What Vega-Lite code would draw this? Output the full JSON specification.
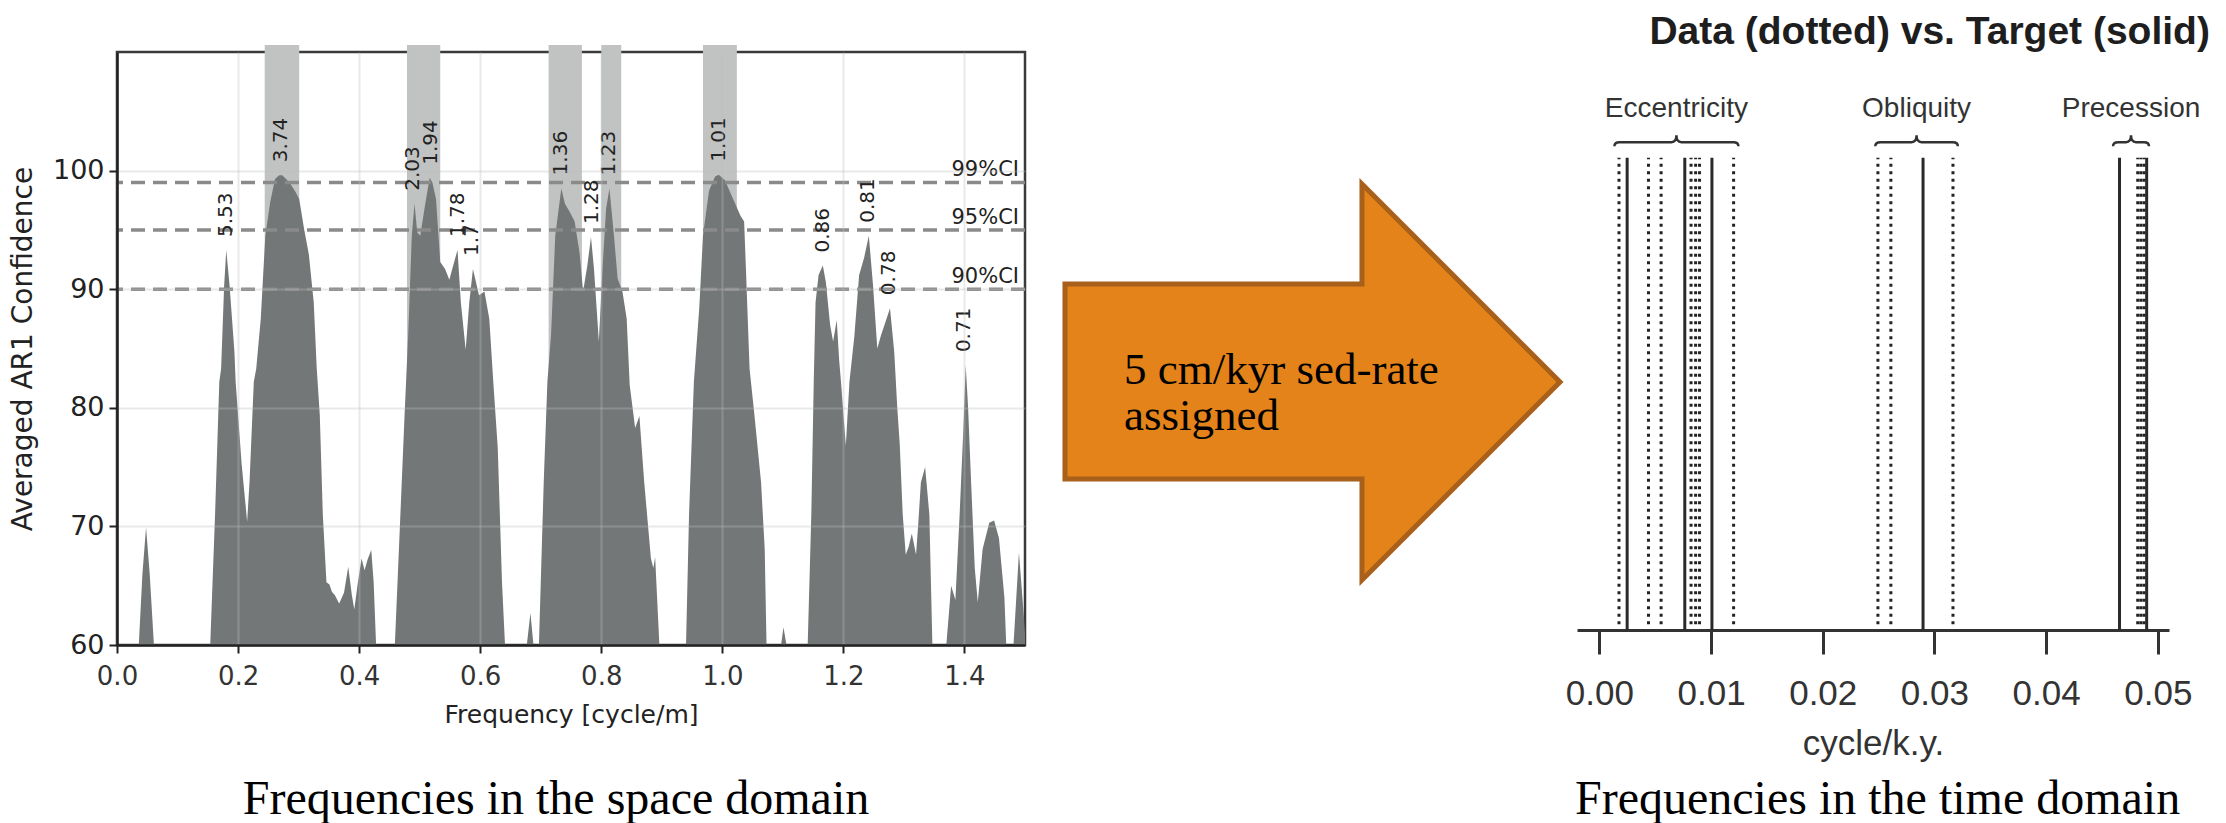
{
  "$schema": "https://vega.github.io/schema/vega-lite/v6.json",
  "background": "white",
  "padding": {"left": 8, "top": 12, "right": 0, "bottom": 0},
  "autosize": {"type": "pad"},
  "spacing": 0,
  "bounds": "flush",
  "config": {"view": {"stroke": null}, "font": "DejaVu Sans"},
  "datasets": {
    "bands": [{"f1": 0.244, "f2": 0.301}, {"f1": 0.479, "f2": 0.534}, {"f1": 0.713, "f2": 0.768}, {"f1": 0.8, "f2": 0.833}, {"f1": 0.968, "f2": 1.024}],
    "ci": [{"level": 99, "label": "99%CI"}, {"level": 95, "label": "95%CI"}, {"level": 90, "label": "90%CI"}],
    "peaks": [
      {"period": "5.53", "f": 0.1797, "v": 93.3}, {"period": "3.74", "f": 0.2707, "v": 99.6},
      {"period": "2.03", "f": 0.4895, "v": 97.2}, {"period": "1.94", "f": 0.518, "v": 99.4},
      {"period": "1.78", "f": 0.563, "v": 93.3}, {"period": "1.7", "f": 0.5867, "v": 91.7},
      {"period": "1.36", "f": 0.733, "v": 98.5}, {"period": "1.28", "f": 0.7843, "v": 94.4},
      {"period": "1.23", "f": 0.8135, "v": 98.5}, {"period": "1.01", "f": 0.9937, "v": 99.65},
      {"period": "0.86", "f": 1.166, "v": 92.0}, {"period": "0.81", "f": 1.24, "v": 94.5},
      {"period": "0.78", "f": 1.276, "v": 88.4}, {"period": "0.71", "f": 1.399, "v": 83.6}
    ],
    "spectrum": [
      {"f": 0, "v": 60}, {"f": 0.036, "v": 60}, {"f": 0.042, "v": 66}, {"f": 0.048, "v": 69.9}, {"f": 0.054, "v": 66}, {"f": 0.061, "v": 60},
      {"f": 0.154, "v": 60}, {"f": 0.162, "v": 71}, {"f": 0.169, "v": 82.2}, {"f": 0.172, "v": 83.3}, {"f": 0.177, "v": 90.3}, {"f": 0.1805, "v": 93.3},
      {"f": 0.186, "v": 90.3}, {"f": 0.194, "v": 84.7}, {"f": 0.196, "v": 82.2}, {"f": 0.206, "v": 75.2}, {"f": 0.215, "v": 70.4}, {"f": 0.219, "v": 73.8},
      {"f": 0.226, "v": 82.2}, {"f": 0.23, "v": 83.3}, {"f": 0.2375, "v": 87.5}, {"f": 0.245, "v": 94.5}, {"f": 0.253, "v": 97.3}, {"f": 0.261, "v": 99.3},
      {"f": 0.268, "v": 99.6}, {"f": 0.273, "v": 99.6}, {"f": 0.285, "v": 99.0}, {"f": 0.295, "v": 98.2}, {"f": 0.301, "v": 97.6}, {"f": 0.309, "v": 95.1},
      {"f": 0.317, "v": 92.9}, {"f": 0.325, "v": 88.9}, {"f": 0.33, "v": 83.3}, {"f": 0.335, "v": 79.4}, {"f": 0.34, "v": 71}, {"f": 0.346, "v": 65.3},
      {"f": 0.351, "v": 65.1}, {"f": 0.355, "v": 64.5}, {"f": 0.36, "v": 64.2}, {"f": 0.367, "v": 63.5}, {"f": 0.375, "v": 64.4}, {"f": 0.382, "v": 66.6},
      {"f": 0.388, "v": 64.2}, {"f": 0.392, "v": 63.0}, {"f": 0.398, "v": 65.3}, {"f": 0.404, "v": 67.3}, {"f": 0.409, "v": 66.3}, {"f": 0.414, "v": 67.2},
      {"f": 0.42, "v": 68.0}, {"f": 0.424, "v": 65.3}, {"f": 0.428, "v": 60},
      {"f": 0.459, "v": 60}, {"f": 0.467, "v": 69.6}, {"f": 0.475, "v": 79.3}, {"f": 0.481, "v": 86.1}, {"f": 0.487, "v": 94.5}, {"f": 0.4915, "v": 97.2},
      {"f": 0.496, "v": 94.8}, {"f": 0.501, "v": 94.5}, {"f": 0.508, "v": 96.8}, {"f": 0.5165, "v": 99.4}, {"f": 0.521, "v": 99.0}, {"f": 0.527, "v": 97.6},
      {"f": 0.534, "v": 92.3}, {"f": 0.542, "v": 91.7}, {"f": 0.549, "v": 90.8}, {"f": 0.557, "v": 92.3}, {"f": 0.5625, "v": 93.3}, {"f": 0.568, "v": 88.9},
      {"f": 0.576, "v": 84.9}, {"f": 0.582, "v": 88.9}, {"f": 0.588, "v": 91.7}, {"f": 0.598, "v": 89.5}, {"f": 0.607, "v": 89.8}, {"f": 0.615, "v": 87.5},
      {"f": 0.622, "v": 81.9}, {"f": 0.629, "v": 76.6}, {"f": 0.636, "v": 65.3}, {"f": 0.641, "v": 60},
      {"f": 0.677, "v": 60}, {"f": 0.683, "v": 62.7}, {"f": 0.688, "v": 60},
      {"f": 0.697, "v": 60}, {"f": 0.705, "v": 73.8}, {"f": 0.711, "v": 82.2}, {"f": 0.717, "v": 86.1}, {"f": 0.724, "v": 94.5}, {"f": 0.734, "v": 98.5},
      {"f": 0.74, "v": 97.2}, {"f": 0.748, "v": 96.5}, {"f": 0.756, "v": 95.7}, {"f": 0.764, "v": 93.1}, {"f": 0.77, "v": 89.8}, {"f": 0.777, "v": 92.0},
      {"f": 0.783, "v": 94.4}, {"f": 0.788, "v": 91.7}, {"f": 0.796, "v": 85.6}, {"f": 0.802, "v": 91.7}, {"f": 0.808, "v": 96.8}, {"f": 0.8135, "v": 98.5},
      {"f": 0.821, "v": 94.5}, {"f": 0.827, "v": 90.9}, {"f": 0.835, "v": 89.8}, {"f": 0.842, "v": 87.5}, {"f": 0.847, "v": 81.9}, {"f": 0.856, "v": 78.3},
      {"f": 0.863, "v": 79.3}, {"f": 0.871, "v": 73.7}, {"f": 0.882, "v": 67.3}, {"f": 0.886, "v": 66.5}, {"f": 0.889, "v": 67.4}, {"f": 0.896, "v": 60},
      {"f": 0.94, "v": 60}, {"f": 0.945, "v": 71}, {"f": 0.953, "v": 82.2}, {"f": 0.962, "v": 88.5}, {"f": 0.968, "v": 94.5}, {"f": 0.978, "v": 98.3},
      {"f": 0.988, "v": 99.5}, {"f": 0.994, "v": 99.65}, {"f": 1.004, "v": 99.2}, {"f": 1.02, "v": 97.35}, {"f": 1.03, "v": 96.2}, {"f": 1.036, "v": 95.7},
      {"f": 1.039, "v": 91.7}, {"f": 1.045, "v": 83.3}, {"f": 1.053, "v": 79.4}, {"f": 1.064, "v": 73.7}, {"f": 1.07, "v": 68.1}, {"f": 1.073, "v": 60},
      {"f": 1.097, "v": 60}, {"f": 1.101, "v": 61.5}, {"f": 1.106, "v": 60},
      {"f": 1.141, "v": 60}, {"f": 1.147, "v": 71}, {"f": 1.151, "v": 82.2}, {"f": 1.154, "v": 88.9}, {"f": 1.159, "v": 91.2}, {"f": 1.166, "v": 92.0},
      {"f": 1.171, "v": 90.6}, {"f": 1.178, "v": 87.0}, {"f": 1.183, "v": 85.6}, {"f": 1.189, "v": 87.4}, {"f": 1.193, "v": 84.0}, {"f": 1.196, "v": 82.2},
      {"f": 1.204, "v": 76.8}, {"f": 1.21, "v": 82.2}, {"f": 1.218, "v": 86.0}, {"f": 1.226, "v": 91.2}, {"f": 1.234, "v": 92.6}, {"f": 1.242, "v": 94.5},
      {"f": 1.249, "v": 90.3}, {"f": 1.256, "v": 85.0}, {"f": 1.262, "v": 86.1}, {"f": 1.268, "v": 87.0}, {"f": 1.277, "v": 88.4}, {"f": 1.284, "v": 84.7},
      {"f": 1.289, "v": 80.0}, {"f": 1.293, "v": 77.0}, {"f": 1.298, "v": 71}, {"f": 1.303, "v": 67.6}, {"f": 1.308, "v": 68.3}, {"f": 1.313, "v": 69.4},
      {"f": 1.317, "v": 68.4}, {"f": 1.32, "v": 67.6}, {"f": 1.324, "v": 70.5}, {"f": 1.328, "v": 73.7}, {"f": 1.335, "v": 75.0}, {"f": 1.342, "v": 71},
      {"f": 1.347, "v": 60},
      {"f": 1.37, "v": 60}, {"f": 1.378, "v": 65.0}, {"f": 1.385, "v": 63.8}, {"f": 1.392, "v": 71}, {"f": 1.398, "v": 78}, {"f": 1.402, "v": 83.6},
      {"f": 1.406, "v": 80}, {"f": 1.411, "v": 73.7}, {"f": 1.417, "v": 66.5}, {"f": 1.422, "v": 63.6}, {"f": 1.43, "v": 68.1}, {"f": 1.441, "v": 70.3},
      {"f": 1.449, "v": 70.5}, {"f": 1.457, "v": 69}, {"f": 1.466, "v": 64}, {"f": 1.469, "v": 60},
      {"f": 1.481, "v": 60}, {"f": 1.49, "v": 67.8}, {"f": 1.498, "v": 62.5}, {"f": 1.5, "v": 61}
    ],
    "target": [{"f": 0.00249}, {"f": 0.00765}, {"f": 0.01008}, {"f": 0.02898}, {"f": 0.04657}, {"f": 0.049}],
    "dataLines": [{"f": 0.00176}, {"f": 0.0044}, {"f": 0.00553}, {"f": 0.00821}, {"f": 0.00862}, {"f": 0.00897}, {"f": 0.01202}, {"f": 0.02494}, {"f": 0.0261}, {"f": 0.03166}, {"f": 0.0482}, {"f": 0.04848}, {"f": 0.04876}],
    "groups": [{"name": "Eccentricity", "c": 0.0069}, {"name": "Obliquity", "c": 0.0284}, {"name": "Precession", "c": 0.0476}]
  },
  "hconcat": [
    {
      "width": 908,
      "height": 593,
      "view": {"stroke": "#3a3a3a", "strokeWidth": 2.5},
      "layer": [
        {
          "data": {"name": "bands"},
          "mark": {"type": "rect", "color": "#c1c3c3"},
          "encoding": {
            "x": {"field": "f1", "type": "quantitative", "scale": {"domain": [0, 1.5], "nice": false, "zero": false},
              "axis": {"values": [0, 0.2, 0.4, 0.6, 0.8, 1.0, 1.2, 1.4], "format": ".1f", "title": "Frequency [cycle/m]", "grid": true, "gridColor": "#bcbfbf", "gridOpacity": 0.34, "gridWidth": 2, "domainColor": "#222", "domainWidth": 2.5, "tickColor": "#222", "tickWidth": 2, "tickSize": 8, "labelFont": "DejaVu Sans", "labelFontSize": 26, "labelColor": "#333", "labelPadding": 10, "labelFlush": false, "titleFont": "DejaVu Sans", "titleFontSize": 25, "titleFontWeight": "normal", "titleColor": "#222", "titlePadding": 13, "zindex": 1}},
            "x2": {"field": "f2"},
            "y": {"datum": 60, "type": "quantitative", "scale": {"domain": [60, 110], "nice": false, "zero": false},
              "axis": {"values": [60, 70, 80, 90, 100], "title": "Averaged AR1 Confidence", "grid": true, "gridColor": "#bcbfbf", "gridOpacity": 0.34, "gridWidth": 2, "domainColor": "#222", "domainWidth": 2.5, "tickColor": "#222", "tickWidth": 2, "tickSize": 8, "labelFont": "DejaVu Sans", "labelFontSize": 27, "labelColor": "#222", "labelPadding": 5, "labelFlush": false, "titleFont": "DejaVu Sans", "titleFontSize": 28, "titleFontWeight": "normal", "titleColor": "#222", "titlePadding": 15, "zindex": 1}},
            "y2": {"datum": 110.6}
          }
        },
        {
          "data": {"name": "spectrum"},
          "mark": {"type": "area", "color": "#737777", "opacity": 1, "interpolate": "linear"},
          "encoding": {
            "x": {"field": "f", "type": "quantitative"},
            "y": {"field": "v", "type": "quantitative"},
            "y2": {"datum": 60}
          }
        },
        {
          "data": {"name": "ci"},
          "mark": {"type": "rule", "color": "#8a8a8a", "strokeWidth": 3.5, "strokeDash": [14, 8]},
          "encoding": {"y": {"field": "level", "type": "quantitative"}}
        },
        {
          "data": {"name": "ci"},
          "mark": {"type": "text", "align": "right", "baseline": "alphabetic", "dx": -6, "dy": -6, "fontSize": 21, "font": "DejaVu Sans", "color": "#222"},
          "encoding": {"x": {"datum": 1.5}, "y": {"field": "level", "type": "quantitative"}, "text": {"field": "label"}}
        },
        {
          "data": {"name": "peaks"},
          "mark": {"type": "text", "angle": 270, "align": "left", "baseline": "middle", "dx": 13, "fontSize": 20, "font": "DejaVu Sans", "color": "#222"},
          "encoding": {"x": {"field": "f", "type": "quantitative"}, "y": {"field": "v", "type": "quantitative"}, "text": {"field": "period"}}
        },
        {
          "data": {"values": [{"caption": "Frequencies in the space domain"}]},
          "mark": {"type": "text", "align": "center", "baseline": "alphabetic", "font": "Liberation Serif", "fontSize": 48, "color": "#000"},
          "encoding": {"x": {"datum": 0.7252}, "y": {"datum": 45.75}, "text": {"field": "caption"}}
        }
      ]
    },
    {
      "width": 552,
      "height": 593,
      "data": {"values": [{"label": "5 cm/kyr sed-rate\nassigned"}]},
      "layer": [
        {
          "mark": {"type": "point", "shape": "M -1 -0.396 L 0.2 -0.396 L 0.2 -0.8 L 1 0 L 0.2 0.8 L 0.2 0.392 L -1 0.392 Z", "size": 245025, "filled": true, "fill": "#e3831a", "stroke": "#a8601a", "strokeWidth": 5, "opacity": 1},
          "encoding": {
            "x": {"datum": 0.5208, "type": "quantitative", "scale": {"domain": [0, 1], "nice": false, "zero": false}, "axis": null},
            "y": {"datum": 0.4435, "type": "quantitative", "scale": {"domain": [0, 1], "nice": false, "zero": false}, "axis": null}
          }
        },
        {
          "mark": {"type": "text", "align": "left", "baseline": "alphabetic", "font": "Liberation Serif", "fontSize": 45, "lineHeight": 46, "lineBreak": "\n", "color": "#000"},
          "encoding": {"x": {"datum": 0.1793}, "y": {"datum": 0.4401}, "text": {"field": "label"}}
        }
      ]
    },
    {
      "width": 592,
      "height": 578,
      "layer": [
        {
          "data": {"name": "target"},
          "mark": {"type": "rule", "color": "#2a2a2a", "strokeWidth": 3},
          "encoding": {
            "x": {"field": "f", "type": "quantitative", "scale": {"domain": [-0.002, 0.051], "nice": false, "zero": false},
              "axis": {"values": [0, 0.01, 0.02, 0.03, 0.04, 0.05], "format": ".2f", "title": "cycle/k.y.", "grid": false, "domainColor": "#333", "domainWidth": 3, "tickColor": "#333", "tickWidth": 3, "tickSize": 24, "labelFont": "Liberation Sans", "labelFontSize": 35, "labelColor": "#333", "labelPadding": 22, "labelFlush": false, "labelOverlap": false, "titleFont": "Liberation Sans", "titleFontSize": 35, "titleFontWeight": "normal", "titleColor": "#333", "titlePadding": 15}},
            "y": {"datum": 0, "type": "quantitative", "scale": {"domain": [0, 100], "nice": false, "zero": false}, "axis": null},
            "y2": {"datum": 81.7}
          }
        },
        {
          "data": {"name": "dataLines"},
          "mark": {"type": "rule", "color": "#222", "strokeWidth": 3, "strokeDash": [3, 4.5]},
          "encoding": {"x": {"field": "f", "type": "quantitative"}, "y": {"datum": 1}, "y2": {"datum": 81.7}}
        },
        {
          "data": {"name": "groups"},
          "mark": {"type": "point", "size": 15376, "filled": false, "color": "#333", "strokeWidth": 2.5, "opacity": 1},
          "encoding": {
            "x": {"field": "c", "type": "quantitative"},
            "y": {"datum": 84.4},
            "shape": {"field": "name", "type": "nominal", "legend": null, "scale": {"domain": ["Eccentricity", "Obliquity", "Precession"], "range": [
              "M -1 0.065 Q -1 0 -0.92 0 L -0.08 0 Q 0 0 0 -0.11 Q 0 0 0.08 0 L 0.92 0 Q 1 0 1 0.065",
              "M -0.666 0.065 Q -0.666 0 -0.586 0 L -0.08 0 Q 0 0 0 -0.11 Q 0 0 0.08 0 L 0.586 0 Q 0.666 0 0.666 0.065",
              "M -0.29 0.065 Q -0.29 0 -0.21 0 L -0.08 0 Q 0 0 0 -0.11 Q 0 0 0.08 0 L 0.21 0 Q 0.29 0 0.29 0.065"]}}
          }
        },
        {
          "data": {"name": "groups"},
          "mark": {"type": "text", "align": "center", "baseline": "alphabetic", "font": "Liberation Sans", "fontSize": 28, "color": "#333"},
          "encoding": {"x": {"field": "c", "type": "quantitative"}, "y": {"datum": 88.75}, "text": {"field": "name"}}
        },
        {
          "data": {"values": [{"title": "Data (dotted) vs. Target (solid)", "caption": "Frequencies in the time domain"}]},
          "mark": {"type": "text", "align": "right", "baseline": "alphabetic", "font": "Liberation Sans", "fontWeight": "bold", "fontSize": 39, "color": "#1e1e1e"},
          "encoding": {"x": {"datum": 0.05466}, "y": {"datum": 101.4}, "text": {"field": "title"}}
        },
        {
          "data": {"values": [{"title": "Data (dotted) vs. Target (solid)", "caption": "Frequencies in the time domain"}]},
          "mark": {"type": "text", "align": "center", "baseline": "alphabetic", "font": "Liberation Serif", "fontSize": 48, "color": "#000"},
          "encoding": {"x": {"datum": 0.02491}, "y": {"datum": -31.83}, "text": {"field": "caption"}}
        }
      ]
    }
  ]
}
